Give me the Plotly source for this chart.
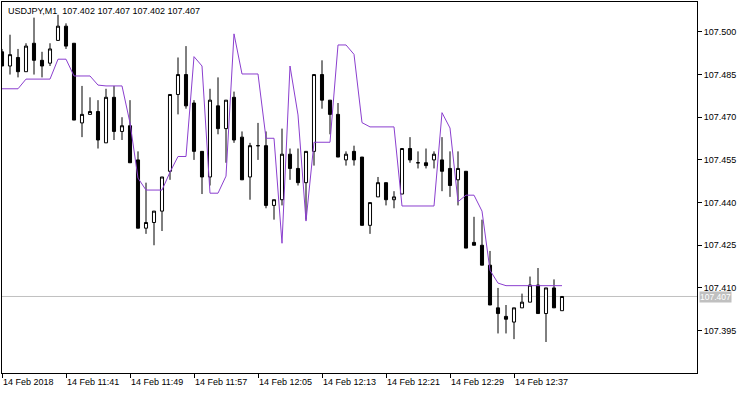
import pandas as pd
import plotly.graph_objects as go

# ---- data (USDJPY, M1) ----
times = pd.date_range("2018-02-14 11:33", periods=71, freq="min")

opens = [107.493, 107.488, 107.491, 107.486, 107.496, 107.490, 107.489, 107.497, 107.502, 107.496,
         107.468, 107.471, 107.472, 107.461, 107.477, 107.465, 107.467, 107.455, 107.431, 107.433,
         107.437, 107.451, 107.478, 107.485, 107.475, 107.458, 107.449, 107.474, 107.466, 107.477,
         107.463, 107.449, 107.460, 107.460, 107.439, 107.441, 107.457, 107.452, 107.447, 107.458,
         107.485, 107.476, 107.471, 107.455, 107.458, 107.456, 107.432, 107.442, 107.447, 107.441,
         107.443, 107.459, 107.454, 107.454, 107.455, 107.455, 107.452, 107.448, 107.451, 107.426,
         107.425, 107.418, 107.403, 107.400, 107.398, 107.403, 107.405, 107.411, 107.401, 107.410,
         107.402]

highs = [107.494, 107.499, 107.494, 107.496, 107.505, 107.493, 107.496, 107.506, 107.503, 107.496,
         107.481, 107.477, 107.476, 107.480, 107.481, 107.470, 107.476, 107.458, 107.447, 107.437,
         107.449, 107.478, 107.491, 107.495, 107.476, 107.458, 107.480, 107.484, 107.476, 107.479,
         107.465, 107.461, 107.468, 107.465, 107.441, 107.466, 107.459, 107.459, 107.458, 107.485,
         107.490, 107.476, 107.475, 107.458, 107.460, 107.456, 107.440, 107.449, 107.447, 107.444,
         107.459, 107.463, 107.458, 107.459, 107.458, 107.463, 107.458, 107.458, 107.451, 107.435,
         107.434, 107.423, 107.410, 107.404, 107.403, 107.408, 107.414, 107.417, 107.410, 107.413,
         107.407]

lows = [107.488, 107.485, 107.484, 107.486, 107.485, 107.484, 107.488, 107.497, 107.494, 107.469,
        107.463, 107.471, 107.459, 107.461, 107.462, 107.462, 107.454, 107.431, 107.429, 107.425,
        107.430, 107.448, 107.471, 107.473, 107.455, 107.443, 107.446, 107.464, 107.454, 107.461,
        107.448, 107.441, 107.455, 107.438, 107.434, 107.439, 107.448, 107.446, 107.434, 107.453,
        107.473, 107.464, 107.456, 107.453, 107.453, 107.432, 107.429, 107.442, 107.439, 107.438,
        107.443, 107.454, 107.452, 107.452, 107.452, 107.444, 107.442, 107.439, 107.424, 107.425,
        107.418, 107.404, 107.394, 107.394, 107.392, 107.403, 107.405, 107.401, 107.391, 107.403,
        107.402]

closes = [107.488, 107.492, 107.486, 107.495, 107.490, 107.488, 107.494, 107.502, 107.495, 107.469,
          107.471, 107.472, 107.462, 107.477, 107.465, 107.467, 107.454, 107.431, 107.433, 107.437,
          107.449, 107.478, 107.485, 107.474, 107.458, 107.449, 107.476, 107.466, 107.476, 107.462,
          107.448, 107.460, 107.460, 107.439, 107.441, 107.457, 107.452, 107.447, 107.458, 107.485,
          107.476, 107.471, 107.456, 107.457, 107.455, 107.432, 107.440, 107.447, 107.441, 107.442,
          107.459, 107.455, 107.454, 107.453, 107.457, 107.451, 107.446, 107.452, 107.424, 107.425,
          107.418, 107.404, 107.401, 107.399, 107.403, 107.405, 107.411, 107.401, 107.410, 107.403,
          107.407]

indicator = [107.4800, 107.4800, 107.4800, 107.4834, 107.4834, 107.4834, 107.4834, 107.4904, 107.4904, 107.4845,
             107.4845, 107.4845, 107.4813, 107.4810, 107.4810, 107.4810, 107.4680, 107.4486, 107.4444, 107.4444,
             107.4444, 107.4507, 107.4562, 107.4562, 107.4913, 107.4880, 107.4433, 107.4433, 107.4493, 107.4993,
             107.4852, 107.4852, 107.4852, 107.4626, 107.4626, 107.4257, 107.4880, 107.4708, 107.4335, 107.4612,
             107.4612, 107.4612, 107.4954, 107.4954, 107.4921, 107.4681, 107.4666, 107.4666, 107.4666, 107.4666,
             107.4388, 107.4388, 107.4388, 107.4388, 107.4388, 107.4716, 107.4662, 107.4403, 107.4426, 107.4426,
             107.4370, 107.4162, 107.4117, 107.4108, 107.4108, 107.4108, 107.4108, 107.4108, 107.4108, 107.4108,
             107.4108]

x_tick_vals = ["2018-02-14 11:33", "2018-02-14 11:41", "2018-02-14 11:49", "2018-02-14 11:57",
               "2018-02-14 12:05", "2018-02-14 12:13", "2018-02-14 12:21", "2018-02-14 12:29",
               "2018-02-14 12:37"]
x_tick_text = ["14 Feb 2018", "14 Feb 11:41", "14 Feb 11:49", "14 Feb 11:57", "14 Feb 12:05",
               "14 Feb 12:13", "14 Feb 12:21", "14 Feb 12:29", "14 Feb 12:37"]
y_tick_vals = [107.395, 107.410, 107.425, 107.440, 107.455, 107.470, 107.485, 107.500]

symbol = "USDJPY,M1"
current_price = closes[-1]

FONT = "Liberation Sans, Arial, sans-serif"

fig = go.Figure()

fig.add_trace(go.Candlestick(
    x=times, open=opens, high=highs, low=lows, close=closes,
    increasing=dict(line=dict(color="black", width=1), fillcolor="white"),
    decreasing=dict(line=dict(color="black", width=1), fillcolor="black"),
    whiskerwidth=0, showlegend=False, hoverinfo="skip",
))

fig.add_trace(go.Scatter(
    x=times, y=indicator, mode="lines",
    line=dict(color="#8b3fcf", width=1), showlegend=False, hoverinfo="skip",
))

fig.add_shape(type="line", xref="paper", x0=0, x1=1, yref="y",
              y0=current_price, y1=current_price,
              line=dict(color="#c0c0c0", width=1), layer="below")

fig.add_annotation(xref="paper", x=1, yref="y", y=current_price,
                   xanchor="left", yanchor="middle", xshift=2, yshift=-1,
                   text=f"{current_price:.3f}", showarrow=False,
                   bgcolor="#c0c0c0", borderpad=0,
                   font=dict(family=FONT, size=8.5, color="white"))

header = (f"{symbol}&nbsp;&nbsp;{opens[-1]:.3f} {highs[-1]:.3f} "
          f"{lows[-1]:.3f} {closes[-1]:.3f}")
fig.add_annotation(xref="paper", yref="paper", x=0, y=1, xanchor="left", yanchor="top",
                   xshift=4, yshift=-2, text=header, showarrow=False,
                   font=dict(family=FONT, size=9, color="black"))

fig.update_layout(
    width=750, height=394,
    margin=dict(l=2, r=53, t=2, b=21),
    paper_bgcolor="white", plot_bgcolor="white",
    boxgap=0.45,
    font=dict(family=FONT, size=9, color="black"),
    xaxis=dict(
        type="date",
        range=["2018-02-14 11:33:00", "2018-02-14 12:59:52.5"],
        rangeslider=dict(visible=False),
        tickvals=x_tick_vals, ticktext=x_tick_text,
        ticks="outside", ticklen=4, tickcolor="black", tickwidth=1,
        ticklabelposition="outside right",
        showgrid=False, zeroline=False,
        showline=True, linecolor="black", linewidth=1, mirror=True,
        tickfont=dict(family=FONT, size=9, color="black"),
    ),
    yaxis=dict(
        side="right",
        range=[107.3801, 107.5105],
        tickvals=y_tick_vals, tickformat=".3f",
        ticks="outside", ticklen=4, tickcolor="black", tickwidth=1,
        showgrid=False, zeroline=False,
        showline=True, linecolor="black", linewidth=1, mirror=True,
        tickfont=dict(family=FONT, size=9, color="black"),
    ),
)

fig.write_html("out.html")
